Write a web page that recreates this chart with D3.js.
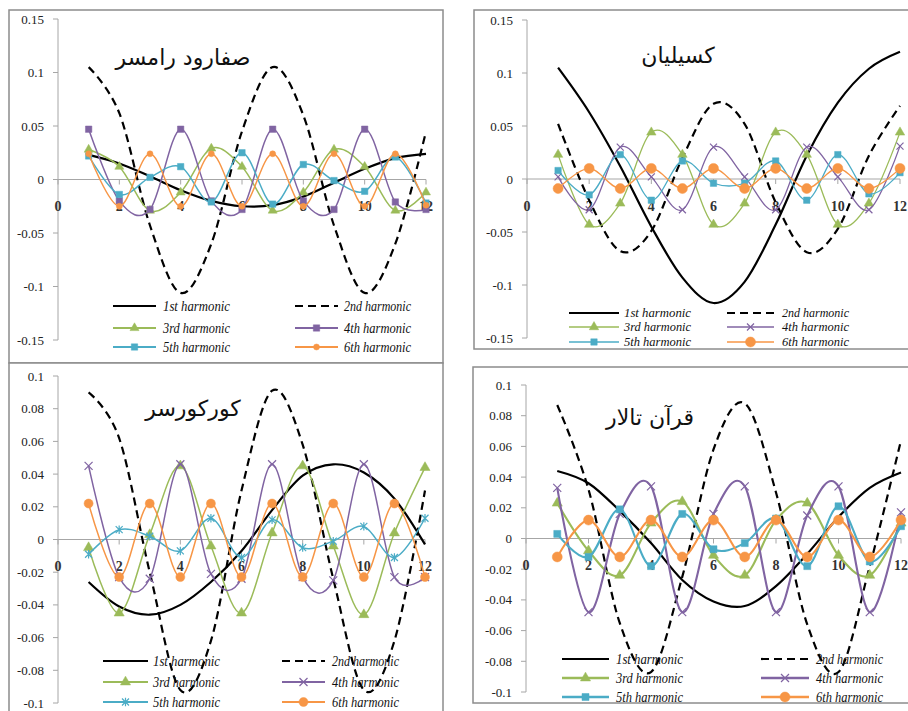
<!DOCTYPE html>
<html>
<head>
<meta charset="utf-8">
<script src="https://cdn.jsdelivr.net/npm/d3@7"></script>
<style>
  body { margin: 0; background: #fff; }
  svg { display: block; }
</style>
</head>
<body>
<svg id="chart" width="908" height="711"></svg>
<script>
// months on the x axis
var months = [1, 2, 3, 4, 5, 6, 7, 8, 9, 10, 11, 12];
var xTicks = [0, 2, 4, 6, 8, 10, 12];
var wideTicks = [-0.15, -0.1, -0.05, 0, 0.05, 0.1, 0.15];
var narrowTicks = [-0.1, -0.08, -0.06, -0.04, -0.02, 0, 0.02, 0.04, 0.06, 0.08, 0.1];
var seriesNames = ["1st harmonic", "2nd harmonic", "3rd harmonic", "4th harmonic", "5th harmonic", "6th harmonic"];
var titles = ["صفارود رامسر", "کسیلیان", "کورکورسر", "قرآن تالار"];

// صفارود رامسر
var safarudH1 = [0.023, 0.015, 0.003, -0.010, -0.020, -0.025, -0.024, -0.016, -0.003, 0.010, 0.020, 0.024];
var safarudH2 = [0.105, 0.062, -0.043, -0.106, -0.060, 0.045, 0.105, 0.060, -0.043, -0.106, -0.060, 0.045];
var safarudH3 = [0.028, 0.012, -0.029, -0.012, 0.029, 0.012, -0.029, -0.012, 0.028, 0.012, -0.029, -0.012];
var safarudH4 = [0.047, -0.020, -0.028, 0.047, -0.020, -0.028, 0.047, -0.020, -0.028, 0.047, -0.021, -0.028];
var safarudH5 = [0.022, -0.014, 0.002, 0.012, -0.021, 0.025, -0.023, 0.014, -0.001, -0.011, 0.021, -0.022];
var safarudH6 = [0.024, -0.025, 0.024, -0.025, 0.024, -0.025, 0.024, -0.025, 0.024, -0.025, 0.024, -0.024];

// کسیلیان
var kasilianH1 = [0.105, 0.063, 0.012, -0.045, -0.093, -0.117, -0.097, -0.043, 0.022, 0.072, 0.104, 0.120];
var kasilianH2 = [0.052, -0.020, -0.068, -0.049, 0.020, 0.071, 0.052, -0.022, -0.069, -0.047, 0.022, 0.069];
var kasilianH3 = [0.023, -0.043, -0.023, 0.044, 0.023, -0.043, -0.023, 0.044, 0.023, -0.043, -0.023, 0.044];
var kasilianH4 = [0.002, -0.029, 0.030, 0.002, -0.029, 0.030, 0.002, -0.029, 0.030, 0.002, -0.029, 0.031];
var kasilianH5 = [0.008, -0.015, 0.023, -0.020, 0.017, -0.004, -0.004, 0.017, -0.020, 0.023, -0.014, 0.006];
var kasilianH6 = [-0.009, 0.010, -0.009, 0.010, -0.009, 0.010, -0.009, 0.010, -0.009, 0.010, -0.009, 0.010];

// کورکورسر
var kurkurH1 = [-0.026, -0.041, -0.046, -0.040, -0.026, -0.007, 0.018, 0.039, 0.046, 0.041, 0.025, -0.003];
var kurkurH2 = [0.090, 0.062, -0.020, -0.092, -0.062, 0.030, 0.091, 0.058, -0.024, -0.092, -0.062, 0.030];
var kurkurH3 = [-0.005, -0.045, 0.003, 0.045, -0.004, -0.045, 0.004, 0.045, -0.004, -0.046, 0.004, 0.044];
var kurkurH4 = [0.045, -0.023, -0.024, 0.046, -0.021, -0.024, 0.046, -0.023, -0.025, 0.046, -0.023, -0.023];
var kurkurH5 = [-0.009, 0.006, 0.002, -0.007, 0.013, -0.011, 0.012, -0.005, -0.001, 0.008, -0.011, 0.013];
var kurkurH6 = [0.022, -0.023, 0.022, -0.023, 0.022, -0.023, 0.022, -0.023, 0.022, -0.023, 0.022, -0.023];

// قرآن تالار
var quranH1 = [0.044, 0.036, 0.018, -0.003, -0.027, -0.041, -0.044, -0.031, -0.010, 0.014, 0.033, 0.043];
var quranH2 = [0.087, 0.032, -0.055, -0.087, -0.025, 0.058, 0.088, 0.030, -0.056, -0.087, -0.018, 0.064];
var quranH3 = [0.023, -0.008, -0.024, 0.010, 0.024, -0.011, -0.024, 0.012, 0.023, -0.011, -0.024, 0.010];
var quranH4 = [0.033, -0.048, 0.016, 0.034, -0.048, 0.016, 0.034, -0.048, 0.015, 0.034, -0.048, 0.017];
var quranH5 = [0.003, -0.012, 0.019, -0.018, 0.016, -0.007, -0.003, 0.013, -0.018, 0.021, -0.015, 0.008];
var quranH6 = [-0.012, 0.012, -0.012, 0.012, -0.012, 0.012, -0.012, 0.012, -0.012, 0.012, -0.012, 0.012];

var COLORS = ["#000000", "#000000", "#9bbb59", "#8064a2", "#4bacc6", "#f79646"];

var svg = d3.select("#chart");

function markerPath(kind, s) {
  if (kind == "x") return "M" + (-s) + "," + (-s) + "L" + s + "," + s + "M" + (-s) + "," + s + "L" + s + "," + (-s);
  if (kind == "star") return "M" + (-s) + "," + (-s) + "L" + s + "," + s + "M" + (-s) + "," + s + "L" + s + "," + (-s) +
    "M0," + (-s * 1.2) + "L0," + (s * 1.2);
  if (kind == "triangle") return d3.symbol().type(d3.symbolTriangle).size(s * s * 2.2)();
  if (kind == "square") return d3.symbol().type(d3.symbolSquare).size(s * s * 4)();
  return d3.symbol().type(d3.symbolCircle).size(Math.PI * s * s)();
}

function drawMarker(g, kind, s, color, cx, cy) {
  var stroked = (kind == "x" || kind == "star");
  g.append("path")
    .attr("d", markerPath(kind, s))
    .attr("transform", "translate(" + cx + "," + cy + ")")
    .style("fill", stroked ? "none" : color)
    .style("stroke", color)
    .style("stroke-width", stroked ? 1.2 : 0.5);
}

function drawPanel(p) {
  var g = svg.append("g");

  // chart frame
  g.append("rect")
    .attr("x", p.box[0]).attr("y", p.box[1])
    .attr("width", p.box[2]).attr("height", p.box[3])
    .style("fill", "#fff")
    .style("stroke", "#8c8c8c")
    .style("stroke-width", 1.5);

  var x = d3.scaleLinear().domain([0, 12]).range(p.xr);
  var y = d3.scaleLinear().domain(d3.extent(p.yTicks)).range(p.yr);

  // y axis
  g.append("line")
    .attr("x1", x(0)).attr("x2", x(0))
    .attr("y1", y(p.yTicks[p.yTicks.length - 1])).attr("y2", y(p.yTicks[0]))
    .style("stroke", "#a6a6a6");
  g.selectAll(".ytick").data(p.yTicks).enter().append("line")
    .attr("x1", x(0) - 5).attr("x2", x(0))
    .attr("y1", function (d) { return y(d); })
    .attr("y2", function (d) { return y(d); })
    .style("stroke", "#a6a6a6");
  g.selectAll(".ylabel").data(p.yTicks).enter().append("text")
    .attr("x", x(0) - 14)
    .attr("y", function (d) { return y(d); })
    .attr("dy", "0.35em")
    .attr("text-anchor", "end")
    .style("font", "13px 'Liberation Serif', serif")
    .style("fill", "#222")
    .text(function (d) { return String(d); });

  // x axis along zero
  g.append("line")
    .attr("x1", x(0)).attr("x2", x(12))
    .attr("y1", y(0)).attr("y2", y(0))
    .style("stroke", "#a6a6a6");
  g.selectAll(".xtick").data(xTicks).enter().append("line")
    .attr("x1", function (d) { return x(d); })
    .attr("x2", function (d) { return x(d); })
    .attr("y1", y(0)).attr("y2", y(0) + 5)
    .style("stroke", "#a6a6a6");
  g.selectAll(".xlabel").data(xTicks).enter().append("text")
    .attr("x", function (d) { return x(d); })
    .attr("y", y(0) + 27)
    .attr("dy", "0.35em")
    .attr("text-anchor", "middle")
    .style("font", "bold 14px 'Liberation Serif', serif")
    .style("fill", "#333")
    .text(function (d) { return d; });

  // title
  g.append("text")
    .attr("x", p.title[0]).attr("y", p.title[1])
    .attr("dy", "0.35em")
    .attr("text-anchor", "middle")
    .style("font", "22px 'DejaVu Sans', sans-serif")
    .style("fill", "#111")
    .text(p.name);

  var line = d3.line()
    .x(function (d, i) { return x(months[i]); })
    .y(function (d) { return y(d); })
    .curve(d3.curveCardinal.tension(0));

  p.series.forEach(function (values, k) {
    var path = g.append("path")
      .datum(values)
      .attr("d", line)
      .style("fill", "none")
      .style("stroke", COLORS[k])
      .style("stroke-width", k < 2 ? 2.2 : p.lw);
    if (k == 1) path.style("stroke-dasharray", "8,5");
    if (k >= 2) {
      values.forEach(function (v, i) {
        drawMarker(g, p.markers[k - 2], p.ms[k - 2], COLORS[k], x(months[i]), y(v));
      });
    }
  });

  // legend
  seriesNames.forEach(function (name, k) {
    var col = p.cols[k % 2], ry = p.rows[Math.floor(k / 2)];
    var seg = g.append("line")
      .attr("x1", col[0]).attr("x2", col[1])
      .attr("y1", ry).attr("y2", ry)
      .style("stroke", COLORS[k])
      .style("stroke-width", k < 2 ? 2.2 : p.lw + 0.4);
    if (k == 1) seg.style("stroke-dasharray", "8,5");
    if (k >= 2) drawMarker(g, p.markers[k - 2], p.ms[k - 2], COLORS[k], (col[0] + col[1]) / 2, ry);
    g.append("text")
      .attr("x", col[2]).attr("y", ry)
      .attr("dy", "0.35em")
      .attr("textLength", 67)
      .attr("lengthAdjust", "spacingAndGlyphs")
      .style("font", "italic " + p.fs + "px 'Liberation Serif', serif")
      .style("fill", "#111")
      .text(name);
  });
}

var panels = [
  { name: titles[0], box: [9, 10, 434, 353], xr: [58, 426], yr: [340, 19], yTicks: wideTicks,
    title: [183, 57], rows: [306, 328, 347], cols: [[113, 156, 163], [295, 338, 344]], fs: 15,
    markers: ["triangle", "square", "square", "circle"], ms: [4, 3.2, 3.2, 3], lw: 1.5,
    series: [safarudH1, safarudH2, safarudH3, safarudH4, safarudH5, safarudH6] },
  { name: titles[1], box: [474, 10, 450, 339], xr: [527, 900], yr: [338, 20], yTicks: wideTicks,
    title: [678, 55], rows: [313, 327, 342], cols: [[569, 619, 624], [727, 774, 782]], fs: 12,
    markers: ["triangle", "x", "square", "circle"], ms: [4.2, 3.5, 3.2, 5], lw: 1.3,
    series: [kasilianH1, kasilianH2, kasilianH3, kasilianH4, kasilianH5, kasilianH6] },
  { name: titles[2], box: [9, 363, 434, 360], xr: [58, 425], yr: [703, 376], yTicks: narrowTicks,
    title: [193, 408], rows: [661, 682, 702], cols: [[103, 148, 153], [282, 325, 332]], fs: 15,
    markers: ["triangle", "x", "star", "circle"], ms: [4.5, 4, 3.5, 4.5], lw: 1.5,
    series: [kurkurH1, kurkurH2, kurkurH3, kurkurH4, kurkurH5, kurkurH6] },
  { name: titles[3], box: [473, 367, 450, 336], xr: [526, 901], yr: [692, 385], yTicks: narrowTicks,
    title: [650, 417], rows: [659, 678, 697], cols: [[562, 609, 616], [761, 809, 816]], fs: 15,
    markers: ["triangle", "x", "square", "circle"], ms: [4.5, 4, 3.5, 5], lw: 2.1,
    series: [quranH1, quranH2, quranH3, quranH4, quranH5, quranH6] }
];

panels.forEach(drawPanel);
</script>
</body>
</html>
